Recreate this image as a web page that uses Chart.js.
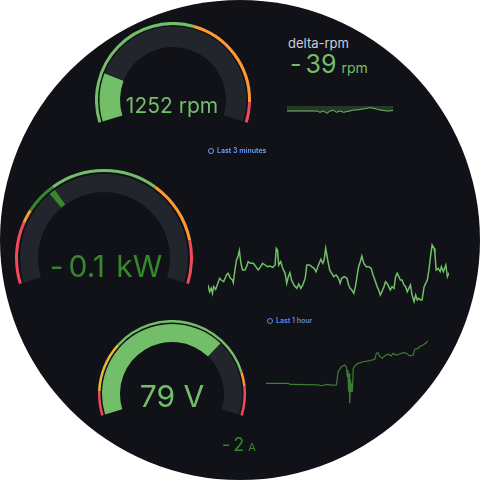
<!DOCTYPE html>
<html>
<head>
<meta charset="utf-8">
<script src="https://cdn.jsdelivr.net/npm/chart.js@4.4.1/dist/chart.umd.min.js"></script>
<style>
  html, body { margin: 0; padding: 0; background: #ffffff; }
  #watch {
    position: absolute; left: 0; top: 0; width: 480px; height: 480px;
    border-radius: 50%; background: #111217; overflow: hidden;
    font-family: Inter, "Noto Sans", sans-serif;
  }
  canvas { position: absolute; }
  .txt { position: absolute; line-height: 1; white-space: nowrap; }
  .center { transform: translateX(-50%); }
  .row { display: flex; align-items: baseline; }
  .time { font-size: 7px; font-weight: 600; color: #6e9fff; display: flex; align-items: center; }
  .clock {
    display: inline-block; width: 4px; height: 4px; border: 1px solid #6e9fff;
    border-radius: 50%; margin-right: 3px;
  }
</style>
</head>
<body>
<div id="watch">
  <canvas id="rpmGauge" width="156" height="156" style="left:95px;top:22px"></canvas>
  <canvas id="kwGauge" width="178" height="178" style="left:15px;top:169px"></canvas>
  <canvas id="voltGauge" width="148" height="148" style="left:98px;top:320px"></canvas>
  <canvas id="deltaSpark" width="106" height="20" style="left:287px;top:100px"></canvas>
  <canvas id="kwLine" width="241" height="80" style="left:208px;top:230px"></canvas>
  <canvas id="voltLine" width="162" height="80" style="left:266px;top:330px"></canvas>

  <div class="txt center" style="left:172px;top:95px;font-size:21px;color:#73bf69">1252 rpm</div>
  <div class="txt" style="left:288px;top:37px;font-size:13px;color:#ccccdc">delta-rpm</div>
  <div class="txt row" style="left:290px;top:52px;color:#73bf69">
    <span style="font-size:25px"><span style="margin-right:4px">-</span>39</span><span style="font-size:14px;margin-left:5px">rpm</span>
  </div>
  <div class="txt time" style="left:208px;top:147px"><span class="clock"></span>Last 3 minutes</div>
  <div class="txt center" style="left:106px;top:251px;font-size:30px;color:#37872d;word-spacing:3px"><span style="margin-right:5px">-</span>0.1 kW</div>
  <div class="txt time" style="left:267px;top:317px;opacity:0.85"><span class="clock"></span>Last 1 hour</div>
  <div class="txt center" style="left:172px;top:381px;font-size:30px;color:#73bf69">79 V</div>
  <div class="txt row" style="left:222px;top:436px;color:#37872d">
    <span style="font-size:18px"><span style="margin-right:3px">-</span>2</span><span style="font-size:11px;margin-left:4px">A</span>
  </div>
</div>

<script>
// gauge: rpm
const rpmMin = 0;
const rpmMax = 7000;
const rpmValue = 1252;
const rpmSteps = [0, 4000, 6500];
const rpmStepColors = ['#73bf69', '#ff9830', '#f2495c'];

// gauge: kW
const kwMin = -3;
const kwMax = 3;
const kwSteps = [-3, -1.85, -1.6, -1, 1, 2.2];
const kwStepColors = ['#f2495c', '#ff9830', '#37872d', '#73bf69', '#ff9830', '#f2495c'];
const kwBar = [-1.13, -1.0];

// gauge: V
const voltMin = 0;
const voltMax = 112;
const voltValue = 79;
const voltSteps = [0, 10, 31, 94, 100];
const voltStepColors = ['#f2495c', '#eab839', '#73bf69', '#ff9830', '#f2495c'];

// delta-rpm sparkline (seconds, rpm)
const deltaTimes = [0, 28, 51, 56, 62, 68, 73, 79, 84, 90, 96, 101, 107, 113, 118, 124, 129, 135, 141, 146, 152, 158, 163, 169, 174, 180];
const deltaValues = [-45, -45, -45, -57, -45, -66, -45, -39, -57, -45, -57, -51, -45, -36, -36, -30, -27, -21, -15, -21, -27, -36, -39, -45, -45, -39];

// kW over last hour (minutes, kW)
const kwTimes = [0, 0.4, 0.8, 1.1, 1.4, 1.9, 2.3, 2.9, 3.3, 3.9, 4.6, 5.0, 5.6, 6.1, 6.3, 6.7, 7.1, 7.5, 7.8, 8.2,
  8.6, 9.2, 9.6, 10.0, 10.6, 11.3, 11.9, 12.5, 13.1, 13.6, 14.2, 14.8, 15.4, 16.1, 16.7, 17.0, 17.3, 17.6, 18.1, 18.6,
  19.2, 19.6, 20.0, 20.4, 20.8, 21.4, 22.1, 22.6, 23.1, 23.6, 24.2, 24.6, 25.3, 25.8, 26.4, 26.9, 27.5, 28.1, 28.6, 28.9,
  29.3, 29.8, 30.3, 30.8, 31.3, 31.9, 32.5, 32.9, 33.3, 33.9, 34.6, 35.0, 35.4, 35.8, 36.3, 36.7, 37.1, 37.5, 37.9, 38.3,
  38.8, 39.4, 40.0, 40.6, 41.1, 41.7, 42.1, 42.5, 42.9, 43.3, 43.8, 44.2, 44.6, 45.0, 45.4, 45.8, 46.3, 46.7, 47.1, 47.5,
  47.9, 48.3, 48.8, 49.2, 49.6, 50.0, 50.4, 50.8, 51.3, 51.7, 52.1, 52.5, 52.9, 53.3, 53.8, 54.2, 54.6, 55.0, 55.4, 55.8,
  56.3, 56.5, 56.8, 57.3, 57.8, 58.1, 58.6, 59.2, 59.6, 60.0];
const kwValues = [0.35, 0.15, 0.25, 0.10, 0.30, 0.22, 0.35, 0.55, 0.50, 0.45, 0.65, 0.70, 0.55, 0.50, 0.42, 0.80, 1.10, 1.22, 1.38, 1.00,
  0.80, 0.80, 0.90, 1.05, 1.00, 1.00, 0.90, 0.80, 0.90, 1.00, 0.95, 0.90, 0.92, 0.88, 0.95, 1.45, 1.40, 0.95, 1.05, 0.85,
  0.70, 0.40, 0.60, 0.72, 0.50, 0.35, 0.25, 0.38, 0.25, 0.35, 0.55, 0.95, 0.95, 0.90, 0.85, 0.75, 0.95, 1.12, 1.00, 1.10,
  1.45, 1.10, 0.80, 0.70, 0.60, 0.65, 0.55, 0.40, 0.55, 0.60, 0.55, 0.35, 0.25, 0.20, 0.10, 0.30, 0.60, 0.90, 1.05, 1.22,
  1.00, 0.90, 0.90, 0.85, 0.65, 0.45, 0.30, 0.20, 0.05, 0.15, 0.30, 0.45, 0.40, 0.30, 0.20, 0.30, 0.25, 0.60, 0.70, 0.60,
  0.50, 0.50, 0.35, 0.30, 0.15, 0.25, 0.35, 0.05, -0.15, 0.05, -0.10, -0.05, -0.10, -0.10, 0.30, 0.40, 0.50, 0.80, 1.20, 1.55,
  1.45, 1.30, 0.80, 0.85, 0.75, 0.90, 0.75, 0.95, 0.60, 0.72];

// V over last hour (minutes, V)
const voltTimes = [0, 8.3, 8.9, 19.3, 20.6, 22.4, 24.3, 26.1, 26.7, 28.0, 29.2, 29.8, 30.1, 30.3, 30.6, 30.8, 31.0, 31.3, 31.5, 31.8,
  32.0, 32.3, 32.9, 34.1, 36.0, 38.4, 40.3, 40.9, 41.5, 42.1, 43.1, 44.0, 45.2, 46.4, 47.1, 48.3, 49.5, 50.8, 52.0, 53.2,
  54.5, 55.1, 56.3, 56.9, 58.2, 59.4, 60];
const voltValues = [65, 65, 64.6, 64.4, 64.1, 64.6, 64.3, 64.4, 69.4, 71.3, 71.9, 71, 67.5, 70, 61.9, 68.8, 57.5, 66.3, 61.9, 65,
  61.9, 70.6, 71.5, 72.5, 73.1, 73.5, 74, 76.3, 76.5, 75, 74.4, 75.3, 76, 75.3, 76.3, 75.6, 76, 76.5, 76.3, 75.3,
  75.6, 77.8, 78.1, 78.8, 79.4, 80.3, 81];

const SWEEP = 214;        // visible gauge arc in degrees
const BAND_BG = '#22252b';

function stepSizes(steps, max) {
  return steps.map((s, i) => (i + 1 < steps.length ? steps[i + 1] : max) - s);
}

function gauge(id, min, max, ringColors, ringData, bandData, bandColors, cutout, weights) {
  const hidden = (max - min) * (360 - SWEEP) / SWEEP;
  new Chart(document.getElementById(id), {
    type: 'doughnut',
    data: {
      datasets: [
        { data: ringData.concat([hidden]), backgroundColor: ringColors.concat(['transparent']), borderWidth: 0, weight: weights[0] },
        { data: [1], backgroundColor: ['transparent'], borderWidth: 0, weight: weights[1] },
        { data: bandData.concat([hidden]), backgroundColor: bandColors.concat(['transparent']), borderWidth: 0, weight: weights[2] }
      ]
    },
    options: {
      responsive: false,
      animation: false,
      events: [],
      rotation: -SWEEP / 2,
      circumference: 360,
      cutout: cutout,
      plugins: { legend: { display: false }, tooltip: { enabled: false } }
    }
  });
}

function line(id, xs, ys, o) {
  new Chart(document.getElementById(id), {
    type: 'line',
    data: {
      datasets: [{
        data: xs.map((x, i) => ({ x: x, y: ys[i] })),
        borderColor: o.color,
        borderWidth: o.width,
        pointRadius: 0,
        tension: 0,
        fill: o.fill || false,
        backgroundColor: o.fillColor || 'transparent'
      }]
    },
    options: {
      responsive: false,
      animation: false,
      events: [],
      layout: { padding: 0 },
      plugins: { legend: { display: false }, tooltip: { enabled: false } },
      scales: {
        x: { type: 'linear', display: false, min: o.xMin, max: o.xMax },
        y: { display: false, min: o.yMin, max: o.yMax }
      }
    }
  });
}

gauge('rpmGauge', rpmMin, rpmMax, rpmStepColors, stepSizes(rpmSteps, rpmMax),
  [rpmValue - rpmMin, rpmMax - rpmValue], ['#73bf69', BAND_BG], 53, [3, 1.5, 20.5]);

gauge('kwGauge', kwMin, kwMax, kwStepColors, stepSizes(kwSteps, kwMax),
  [kwBar[0] - kwMin, kwBar[1] - kwBar[0], kwMax - kwBar[1]], [BAND_BG, '#37872d', BAND_BG], 66, [3, 2, 18]);

gauge('voltGauge', voltMin, voltMax, voltStepColors, stepSizes(voltSteps, voltMax),
  [voltValue - voltMin, voltMax - voltValue], ['#73bf69', BAND_BG], 52, [2.5, 1.5, 18]);

line('deltaSpark', deltaTimes, deltaValues, {
  color: '#73bf69', width: 1, fill: 'origin', fillColor: 'rgba(115,191,105,0.22)',
  xMin: 0, xMax: 180, yMin: -126, yMax: 54
});

line('kwLine', kwTimes, kwValues, {
  color: '#73bf69', width: 1.5, xMin: 0, xMax: 60, yMin: -0.4, yMax: 2.0
});

line('voltLine', voltTimes, voltValues, {
  color: '#3b7d32', width: 1.2, xMin: 0, xMax: 60, yMin: 55, yMax: 85
});
</script>
</body>
</html>
